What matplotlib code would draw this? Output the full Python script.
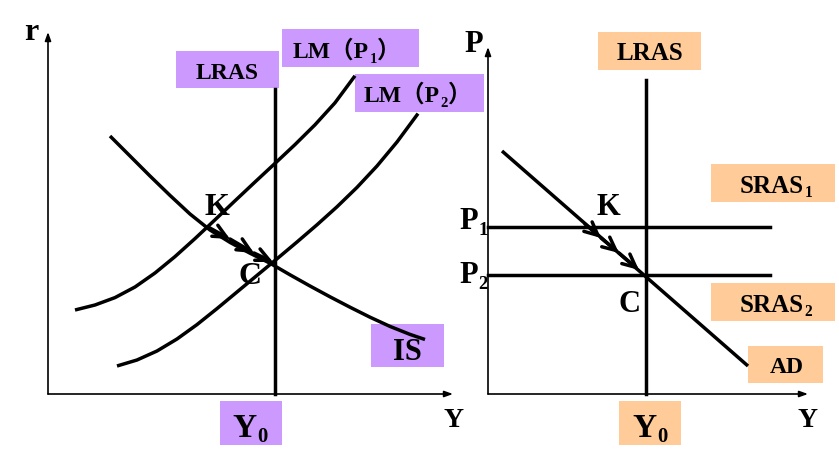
import matplotlib.pyplot as plt
from matplotlib.patches import Rectangle

plt.rcParams['font.family'] = ['Liberation Serif', 'Noto Sans CJK SC', 'DejaVu Serif']

# Curve points (figure pixel space, y grows downward)
is_x = [110, 130, 150, 170, 190, 210, 230, 250, 270, 290, 310, 330, 350, 370, 390, 410, 425]
is_y = [137, 157, 177, 196.4, 215, 231, 243.4, 254.2, 264.2, 275.8, 287, 297.8, 308.2,
        318.2, 327.4, 335.4, 340.5]
lm1_x = [75, 95, 115, 135, 155, 175, 195, 215, 235, 255, 275, 295, 315, 335, 355]
lm1_y = [311, 306, 298.6, 288, 274, 257.6, 239.6, 220.8, 201.8, 183, 164.4, 145.6,
         125.8, 103.8, 76.8]
lm2_x = [117, 137, 157, 177, 197, 217, 237, 257, 277, 297, 317, 337, 357, 377, 397, 418]
lm2_y = [367, 361, 352, 340, 325.6, 309.6, 293, 276.4, 259.8, 243, 225.8, 207.8,
         188.4, 167, 143, 114.6]
ad_x = [502, 748]
ad_y = [152, 367]
y0_left, y0_right = 275, 646
p1, p2 = 228, 276

# Arrow chevron tips along the adjustment path K -> C
left_path = [(208, 228), (230, 240), (254, 254), (273, 263)]
right_path = [(585, 225), (601, 239), (619, 254), (639, 271)]

purple = '#CC99FF'
orange = '#FFCC99'
LW = 2.5

fig = plt.figure(figsize=(8.39, 4.64), dpi=100)
ax = fig.add_axes([0, 0, 1, 1])
ax.set_xlim(0, 839)
ax.set_ylim(464, 0)
ax.axis('off')


def box(x0, y0, x1, y1, color):
    ax.add_patch(Rectangle((x0, y0), x1 - x0, y1 - y0, facecolor=color,
                           edgecolor='none', zorder=1))


def label(x, y, base, sub='', tail='', size=17, ha='left'):
    t = ax.text(x, y, base, fontsize=size, fontweight='bold', ha=ha,
                va='baseline', zorder=5)
    if sub:
        s = ax.annotate(sub, xy=(1, 0), xycoords=t, xytext=(0.5, -2),
                        textcoords='offset points', fontsize=size * 0.62,
                        fontweight='bold', va='bottom', ha='left', zorder=5)
        if tail:
            ax.annotate(tail, xy=(1, 0), xycoords=(s, t), xytext=(0, 0),
                        textcoords='offset points', fontsize=size,
                        fontweight='bold', va='bottom', ha='left', zorder=5)
    return t


def axis_arrows(x0, y_bottom, y_top, x_right):
    style = '-|>,head_length=0.5,head_width=0.18'
    ax.annotate('', xy=(x0, y_top), xytext=(x0, y_bottom),
                arrowprops=dict(arrowstyle=style, color='black', lw=1.2,
                                shrinkA=0, shrinkB=0))
    ax.annotate('', xy=(x_right, y_bottom), xytext=(x0, y_bottom),
                arrowprops=dict(arrowstyle=style, color='black', lw=1.2,
                                shrinkA=0, shrinkB=0))


def chevrons(path):
    for (xa, ya), (xb, yb) in zip(path[:-1], path[1:]):
        ax.annotate('', xy=(xb, yb), xytext=(xa, ya),
                    arrowprops=dict(arrowstyle='->,head_length=0.95,head_width=0.45',
                                    color='black', lw=LW, shrinkA=0, shrinkB=0,
                                    joinstyle='miter'),
                    zorder=4)


def curve(xs, ys):
    ax.plot(xs, ys, color='black', lw=LW, solid_capstyle='butt',
            solid_joinstyle='round', zorder=3)


# ---- Left panel: IS-LM ----
axis_arrows(48, 395, 33, 453)
curve(is_x, is_y)
curve(lm1_x, lm1_y)
curve(lm2_x, lm2_y)
ax.plot([y0_left, y0_left], [90, 395], color='black', lw=LW, zorder=3)
chevrons(left_path)

box(176, 52, 279, 89, purple)
box(282, 30, 419, 68, purple)
box(355, 75, 484, 113, purple)
box(371, 325, 444, 368, purple)
box(220, 402, 282, 446, purple)

ax.text(31, 40, 'r', fontsize=23, fontweight='bold', ha='center', va='baseline')
label(227, 79, 'LRAS', ha='center')
label(293, 58, 'LM（P', '1', '）')
label(364, 102, 'LM（P', '2', '）')
ax.text(407, 360, 'IS', fontsize=22, fontweight='bold', ha='center', va='baseline', zorder=5)
ax.text(217, 215, 'K', fontsize=23, fontweight='bold', ha='center', va='baseline', zorder=5)
ax.text(250, 284, 'C', fontsize=23, fontweight='bold', ha='center', va='baseline', zorder=2)
label(232, 437, 'Y', '0', size=24)
ax.text(454, 427, 'Y', fontsize=20, fontweight='bold', ha='center', va='baseline')

# ---- Right panel: AD-AS ----
axis_arrows(488, 395, 48, 808)
ax.plot([y0_right, y0_right], [81, 395], color='black', lw=LW, zorder=3)
ax.plot([488, 770], [p1, p1], color='black', lw=LW, zorder=3)
ax.plot([488, 770], [p2, p2], color='black', lw=LW, zorder=3)
curve(ad_x, ad_y)
chevrons(right_path)

box(598, 33, 701, 71, orange)
box(711, 165, 835, 203, orange)
box(711, 284, 835, 322, orange)
box(748, 347, 823, 384, orange)
box(619, 402, 681, 446, orange)

ax.text(474, 52, 'P', fontsize=22, fontweight='bold', ha='center', va='baseline')
label(650, 60, 'LRAS', ha='center', size=18)
label(740, 193, 'SRAS', '1', size=18)
label(740, 312, 'SRAS', '2', size=18)
ax.text(787, 373, 'AD', fontsize=17, fontweight='bold', ha='center', va='baseline', zorder=5)
ax.text(608, 215, 'K', fontsize=22, fontweight='bold', ha='center', va='baseline', zorder=5)
ax.text(629, 312, 'C', fontsize=22, fontweight='bold', ha='center', va='baseline', zorder=5)
label(459, 229, 'P', '1', size=22)
label(459, 283, 'P', '2', size=22)
label(632, 437, 'Y', '0', size=24)
ax.text(808, 427, 'Y', fontsize=20, fontweight='bold', ha='center', va='baseline')

fig.savefig('out.png', dpi=100)
